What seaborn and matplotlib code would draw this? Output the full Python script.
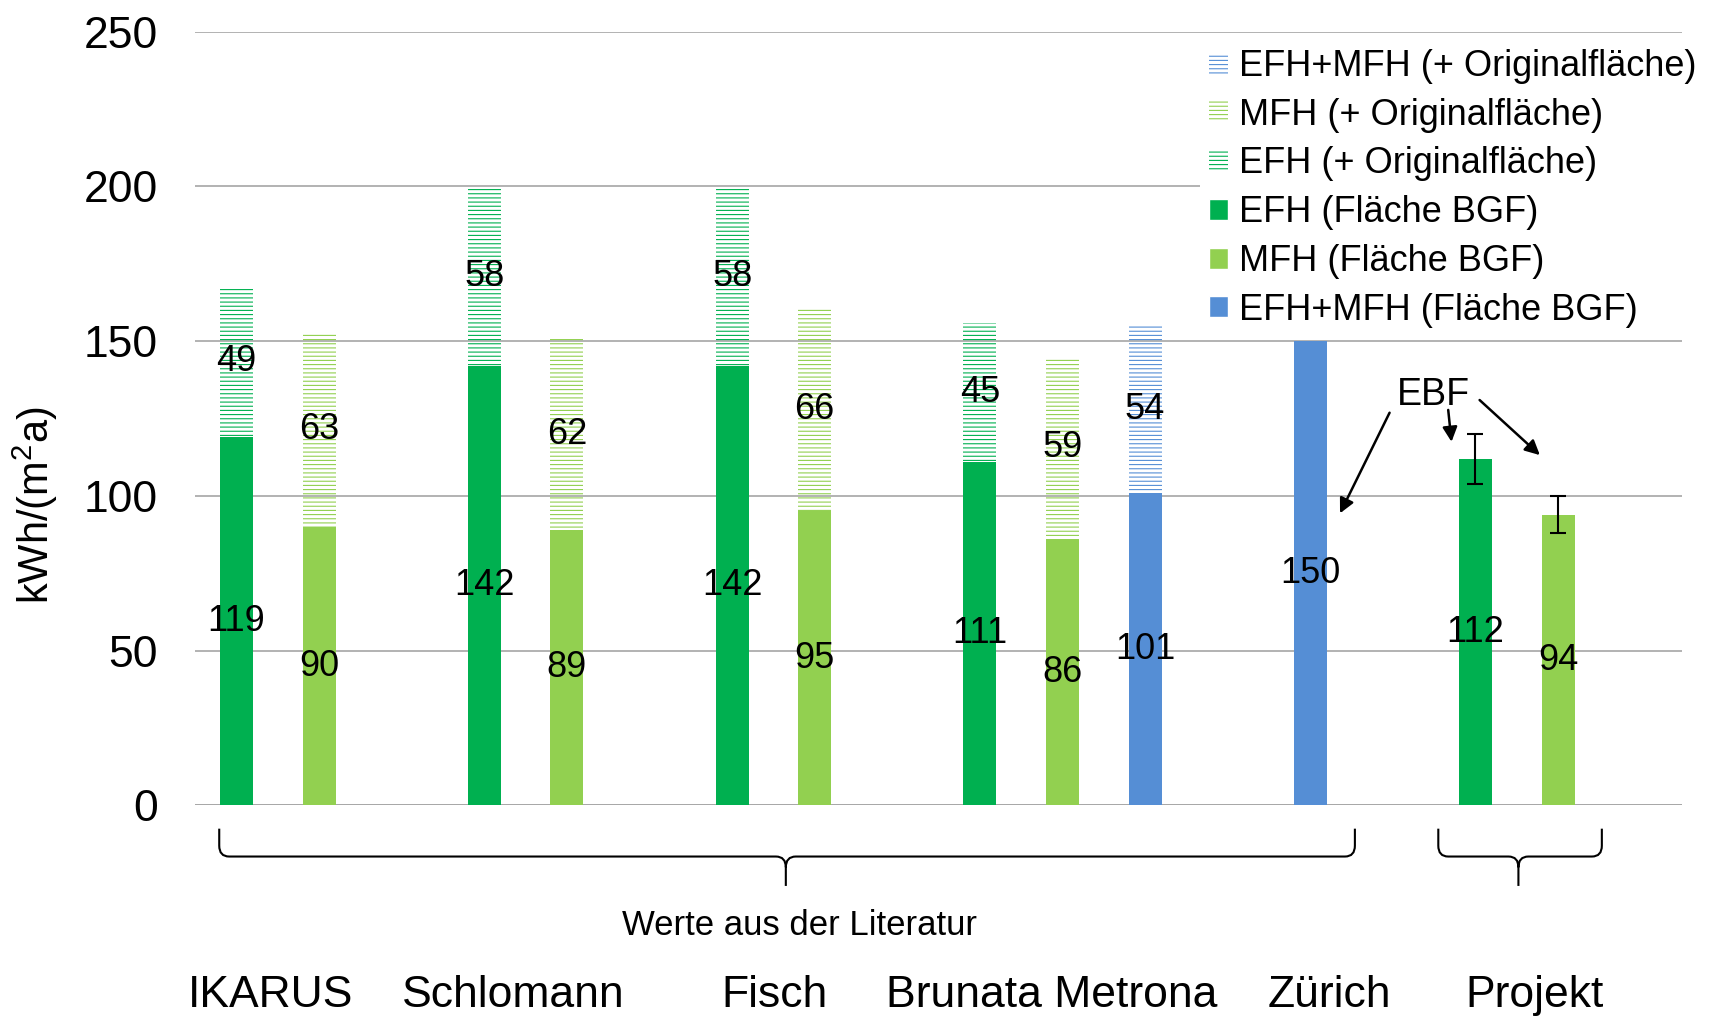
import matplotlib
matplotlib.use("Agg")
import matplotlib.pyplot as plt
import matplotlib.transforms as mtransforms
from matplotlib.path import Path
from matplotlib.patches import PathPatch, Patch
import seaborn as sns

# base values (Fläche BGF) per bar slot
positions = [0, 1, 3, 4, 6, 7, 9, 10, 11, 13, 15, 16]
types = ["EFH", "MFH", "EFH", "MFH", "EFH", "MFH", "EFH", "MFH", "EFH+MFH", "EFH+MFH", "EFH", "MFH"]
base_values = [119, 90, 142, 89, 142, 95, 111, 86, 101, 150, 112, 94]

# extra with original area (stacked, hatched)
extra_positions = [0, 1, 3, 4, 6, 7, 9, 10, 11]
extra_types = ["EFH", "MFH", "EFH", "MFH", "EFH", "MFH", "EFH", "MFH", "EFH+MFH"]
extra_values = [49, 63, 58, 62, 58, 66, 45, 59, 54]

# Projekt error bars
err_positions = [15, 16]
err_values = [112, 94]
err_low = [8, 6]
err_high = [8, 6]

groups = ["IKARUS", "Schlomann", "Fisch", "Brunata Metrona", "Zürich", "Projekt"]
group_x = [0.41, 3.35, 6.51, 9.87, 13.23, 15.72]

colors = {"EFH": "#00B050", "MFH": "#92D050", "EFH+MFH": "#558ED5"}
HATCH = "----"

sns.set_style("white")
plt.rcParams["font.family"] = ["Liberation Sans", "DejaVu Sans"]
plt.rcParams["mathtext.default"] = "regular"
plt.rcParams["hatch.linewidth"] = 0.8
plt.rcParams["text.color"] = "black"
plt.rcParams["axes.labelcolor"] = "black"
plt.rcParams["ytick.color"] = "black"

fig = plt.figure(figsize=(17.1, 10.17), dpi=100)
ax = fig.add_axes([0.1142, 0.2080, 0.8694, 0.7608])

sns.barplot(x=positions, y=base_values, hue=types, palette=colors, native_scale=True,
            width=0.4, dodge=False, saturation=1, legend=False, linewidth=0, ax=ax, zorder=2)
for cont in ax.containers:
    ax.bar_label(cont, fmt="%d", label_type="center", fontsize=26, color="black")

base_lookup = dict(zip(positions, base_values))
tops = ax.bar(extra_positions, extra_values, bottom=[base_lookup[p] for p in extra_positions],
              width=0.4, facecolor="none", edgecolor=[colors[t] for t in extra_types],
              linewidth=0, hatch=HATCH, zorder=2)
ax.bar_label(tops, fmt="%d", label_type="center", fontsize=26, color="black")

ax.errorbar(err_positions, err_values, yerr=[err_low, err_high], fmt="none", ecolor="black",
            elinewidth=1.5, capsize=6, capthick=1.5, zorder=3)

ax.set_xlim(-0.5, 17.5)
ax.set_ylim(0, 250)
ax.set_yticks(range(0, 251, 50))
ax.set_xticks([])
ax.set_xlabel("")
ax.set_ylabel("")
ax.yaxis.grid(True, color="#A6A6A6", linewidth=1.2)
ax.set_axisbelow(True)
for s in ["top", "right", "left", "bottom"]:
    ax.spines[s].set_visible(False)
ax.axhline(0, color="#A6A6A6", linewidth=1.2, zorder=1)
ax.tick_params(axis="y", length=0, pad=27, labelsize=32, labelcolor="black")

fig.text(35 / 1710, 1 - 505 / 1017, "kWh/(m$^2$a)", rotation=90, ha="center", va="center", fontsize=30)

# EBF annotation
ax.text(14.49, 132.6, "EBF", ha="center", va="center", fontsize=27)
arrow_kw = dict(arrowstyle="-|>", color="black", lw=1.8, mutation_scale=22, shrinkA=0, shrinkB=0)
ax.annotate("", xy=(13.36, 94.4), xytext=(13.96, 126.9), arrowprops=arrow_kw)
ax.annotate("", xy=(14.71, 117.5), xytext=(14.67, 127.8), arrowprops=arrow_kw)
ax.annotate("", xy=(15.78, 113.2), xytext=(15.05, 131.0), arrowprops=arrow_kw)

# curly braces below the axis
trans = mtransforms.blended_transform_factory(ax.transData, ax.transAxes)


def brace(x0, x1, xm, yt=-0.030, ym=-0.066, ytip=-0.104, r=0.12, ry=0.014):
    verts = [(x0, yt), (x0, ym + ry), (x0, ym), (x0 + r, ym), (xm - r, ym), (xm, ym), (xm, ym - ry), (xm, ytip),
             (xm, ym - ry), (xm, ym), (xm + r, ym), (x1 - r, ym), (x1, ym), (x1, ym + ry), (x1, yt)]
    codes = [Path.MOVETO, Path.LINETO, Path.CURVE3, Path.CURVE3, Path.LINETO, Path.CURVE3, Path.CURVE3, Path.LINETO,
             Path.MOVETO, Path.CURVE3, Path.CURVE3, Path.LINETO, Path.CURVE3, Path.CURVE3, Path.LINETO]
    ax.add_patch(PathPatch(Path(verts, codes), facecolor="none", edgecolor="black", lw=1.5,
                           transform=trans, clip_on=False))


brace(-0.21, 13.54, 6.65)
brace(14.55, 16.53, 15.52)

ftrans = mtransforms.blended_transform_factory(ax.transData, fig.transFigure)
ax.text(6.82, 0.0806, "Werte aus der Literatur", transform=ftrans, ha="center", va="baseline", fontsize=25)
for name, gx in zip(groups, group_x):
    ax.text(gx, 0.0098, name, transform=ftrans, ha="center", va="baseline", fontsize=32)

handles = [
    Patch(facecolor="none", edgecolor=colors["EFH+MFH"], hatch=HATCH, linewidth=0, label="EFH+MFH (+ Originalfläche)"),
    Patch(facecolor="none", edgecolor=colors["MFH"], hatch=HATCH, linewidth=0, label="MFH (+ Originalfläche)"),
    Patch(facecolor="none", edgecolor=colors["EFH"], hatch=HATCH, linewidth=0, label="EFH (+ Originalfläche)"),
    Patch(facecolor=colors["EFH"], label="EFH (Fläche BGF)"),
    Patch(facecolor=colors["MFH"], label="MFH (Fläche BGF)"),
    Patch(facecolor=colors["EFH+MFH"], label="EFH+MFH (Fläche BGF)"),
]
leg = ax.legend(handles=handles, loc="upper left", bbox_to_anchor=(1200 / 1710, 1 - 40 / 1017),
                bbox_transform=fig.transFigure, fontsize=26, frameon=True, fancybox=False,
                borderpad=0.25, borderaxespad=0, handlelength=0.52, handleheight=0.52,
                handletextpad=0.3, labelspacing=0.38)
leg.get_frame().set_edgecolor("none")
leg.get_frame().set_facecolor("white")
leg.get_frame().set_alpha(1)

fig.savefig("out.png", dpi=100)
